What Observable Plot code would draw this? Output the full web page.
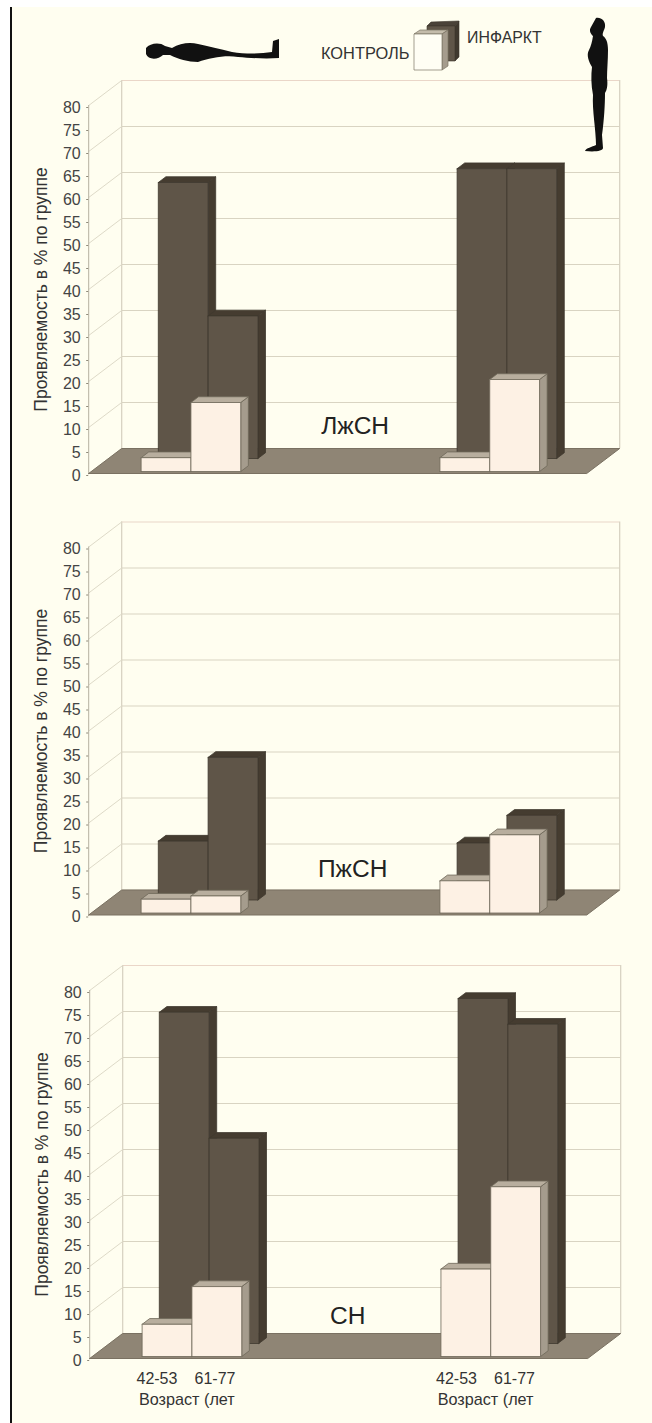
<!DOCTYPE html>
<html lang="ru">
<head>
<meta charset="utf-8">
<script src="https://cdn.jsdelivr.net/npm/d3@7"></script>
<script src="https://cdn.jsdelivr.net/npm/@observablehq/plot@0.6"></script>
<style>
html,body{margin:0;padding:0;background:#fff;}
#page{position:relative;width:652px;height:1423px;overflow:hidden;background:#fff;font-family:"Liberation Sans",Arial,sans-serif;}
#paper{position:absolute;left:12px;top:7px;right:0;bottom:0;background:#fffef0;}
#rule{position:absolute;left:10px;top:7px;bottom:0;width:2px;background:#111;}
#panels{position:absolute;left:0;top:0;width:652px;}
#panels svg{display:block;background:transparent;}
#overlay{position:absolute;left:0;top:0;}
</style>
</head>
<body>
<div id="page">
  <div id="paper"></div>
  <div id="rule"></div>
  <div id="panels"></div>
  <svg id="overlay" width="652" height="200" viewBox="0 0 652 200" font-family="'Liberation Sans',Arial,sans-serif">
    <path fill="#111" d="M146 48C150 43 160 42 165 46L172 48C180 43 190 42 198 44C208 46 220 49 232 52C245 54 260 54 272 52L273 41L279 39L279 58C265 59 250 58 238 57C225 55 210 58 198 62C188 62 178 59 170 55L163 55C158 60 148 60 146 54Z"/>
    <path fill="#111" d="M596 18C601 17 606 21 605 27C604 31 602 33 603 36C606 38 608 42 608 50C608 60 607 70 607 78C608 85 607 90 605 93C605 105 604 120 602 135L603 148C603 151 595 152 585 151C586 148 592 147 596 145C596 130 592 110 593 95C591 85 591 75 592 67C589 62 586 55 589 50C591 46 592 42 593 36C590 33 589 30 591 27Z"/>
    <g stroke="#3d362c" stroke-width="0.6">
      <polygon fill="#4a4238" points="427,26 431,22 459,21 455,26"/>
      <polygon fill="#3f382e" points="455,26 459,21 459,57 455,61"/>
      <polygon fill="#5f5548" points="427,26 455,26 455,61 427,61"/>
    </g>
    <g stroke="#7c7566" stroke-width="0.7">
      <polygon fill="#c4bcab" points="414,34 420,30 448,30 442,34"/>
      <polygon fill="#a59c8d" points="442,34 448,30 448,66 442,70"/>
      <polygon fill="#fffef4" points="414,34 442,34 442,70 414,70"/>
    </g>
    <text x="321" y="59" font-size="16.4" fill="#333">КОНТРОЛЬ</text>
    <text x="467" y="43" font-size="15.9" fill="#333">ИНФАРКТ</text>
  </svg>
</div>
<script>
// Data (percent by group)
const ageGroups = ["42-53", "61-77", "42-53", "61-77"];
const agePositions = [0.35, 1.516, 6.365, 7.53];
const ageTitlePositions = [0.95, 6.95];
const yTicks = [0,5,10,15,20,25,30,35,40,45,50,55,60,65,70,75,80];
const wallTicks = [0,10,20,30,40,50,60,70,80];
const yTitle = "Проявляемость в % по группе";
const xTitle = "Возраст (лет";

const lvInfarct = [60, 31, 63, 63];
const lvControl = [3, 15, 3, 20];
const rvInfarct = [12.8, 31, 12.4, 18.4];
const rvControl = [3, 3.7, 7, 17];
const hfInfarct = [72, 44.6, 75, 69.4];
const hfControl = [7, 15.2, 19, 36.9];

const slots = [0, 1, 6, 7];          // bar position along the floor, in bar widths
const floorLeft = -1, floorRight = 9;
const depthX = 33 / 49.8, depthY = 25 / 4.6; // one whole depth of the box, in data units
const infarctDepth = 0.6, controlDepth = 0.08, barDepth = 0.23;

const colors = {
  infarct: {front:"#5f5548", top:"#453c30", side:"#453c30", stroke:"#3f382e"},
  control: {front:"#fdf1e4", top:"#b8ae9e", side:"#a59c8d", stroke:"#6f6859"}
};
const P = (u, v, d) => ({u: u + d * depthX, v: v + d * depthY});

function barFaces(values, depth, c, key) {
  const polys = [];
  values.forEach((v, i) => {
    const u = slots[i], e = depth + barDepth;
    const faces = [
      ["side",  [P(u+1,0,depth), P(u+1,0,e), P(u+1,v,e), P(u+1,v,depth)]],
      ["top",   [P(u,v,depth), P(u+1,v,depth), P(u+1,v,e), P(u,v,e)]],
      ["front", [P(u,0,depth), P(u+1,0,depth), P(u+1,v,depth), P(u,v,depth)]]
    ];
    faces.forEach(([name, pts]) => {
      const ring = [...pts, pts[0]];
      ring.forEach(p => polys.push({...p, id:`${key}${i}${name}`, fill:c[name], stroke:c.stroke}));
    });
  });
  return polys;
}

function panel({infarct, control, name, nameU, nameV, height, y0, x0, ageLabels}) {
  const wallLines = wallTicks.map(t => ({
    x1: floorLeft + depthX, x2: floorRight + depthX, y: t + depthY, top: t === 80
  }));
  const sideLines = wallTicks.map(t => [P(floorLeft,t,0), P(floorLeft,t,1)]).flatMap((a,i) => a.map(p => ({...p, id:i})));
  const walls = [floorLeft + depthX, floorRight + depthX];
  const floor = [P(floorLeft,0,0), P(floorRight,0,0), P(floorRight,0,1), P(floorLeft,0,1), P(floorLeft,0,0)];
  const ageRows = ageLabels ? ageGroups.map((t,i) => ({t, u: agePositions[i]})) : [];
  const ageTitles = ageLabels ? ageTitlePositions.map(u => ({u})) : [];
  return Plot.plot({
    width: 652, height,
    margin: 0,
    style: {background:"transparent", fontFamily:"'Liberation Sans',Arial,sans-serif"},
    x: {domain:[0,1], range:[x0, x0 + 49.8], axis:null},
    y: {domain:[0,80], range:[y0, y0 - 368], axis:null},
    color: {type:"identity"},
    marks: [
      Plot.ruleY(wallLines, {y:"y", x1:"x1", x2:"x2", stroke:d => d.top ? "#ead6c8" : "#d9d4c2", strokeWidth:1.2}),
      Plot.ruleX(walls, {x:d => d, y1:depthY, y2:80 + depthY, stroke:"#d5d0bf", strokeWidth:1.2}),
      Plot.line(sideLines, {x:"u", y:"v", z:"id", stroke:"#dedac8", strokeWidth:1}),
      Plot.ruleX([floorLeft], {y1:0, y2:80, stroke:"#b5b0a0", strokeWidth:1}),
      Plot.line(floor, {x:"u", y:"v", fill:"#8f8575", stroke:"#7a7162", strokeWidth:1}),
      Plot.axisY(yTicks, {anchor:"left", x:floorLeft, tickSize:2, tickPadding:6, fontSize:16, label:null, stroke:"#8d8878", fill:"#444", tickFormat:d => d, dy:2}),
      Plot.line(barFaces(infarct, infarctDepth, colors.infarct, "i"), {x:"u", y:"v", z:"id", fill:"fill", stroke:"stroke", strokeWidth:0.8}),
      Plot.line(barFaces(control, controlDepth, colors.control, "c"), {x:"u", y:"v", z:"id", fill:"fill", stroke:"stroke", strokeWidth:0.8}),
      Plot.text([yTitle], {x:[-1.96], y:[40], text:d => d, rotate:-90, fontSize:17.5, fill:"#333"}),
      Plot.text([name], {x:[nameU], y:[nameV], text:d => d, fontSize:24.5, fill:"#222"}),
      Plot.text(ageRows, {x:"u", y:[-4.5,-4.5,-4.5,-4.5], text:"t", fontSize:16, fill:"#333"}),
      Plot.text(ageTitles, {x:"u", y:[-8.9,-8.9], text:() => xTitle, fontSize:16.2, fill:"#333"})
    ]
  });
}

const host = document.getElementById("panels");
host.append(
  panel({infarct:lvInfarct, control:lvControl, name:"ЛжСН", nameU:4.35, nameV:10.4, height:500, y0:473, x0:138, ageLabels:false}),
  panel({infarct:rvInfarct, control:rvControl, name:"ПжСН", nameU:4.3, nameV:10, height:440, y0:414.5, x0:138, ageLabels:false}),
  panel({infarct:hfInfarct, control:hfControl, name:"СН", nameU:4.18, nameV:9.3, height:483, y0:418, x0:139, ageLabels:true})
);
</script>
</body>
</html>
